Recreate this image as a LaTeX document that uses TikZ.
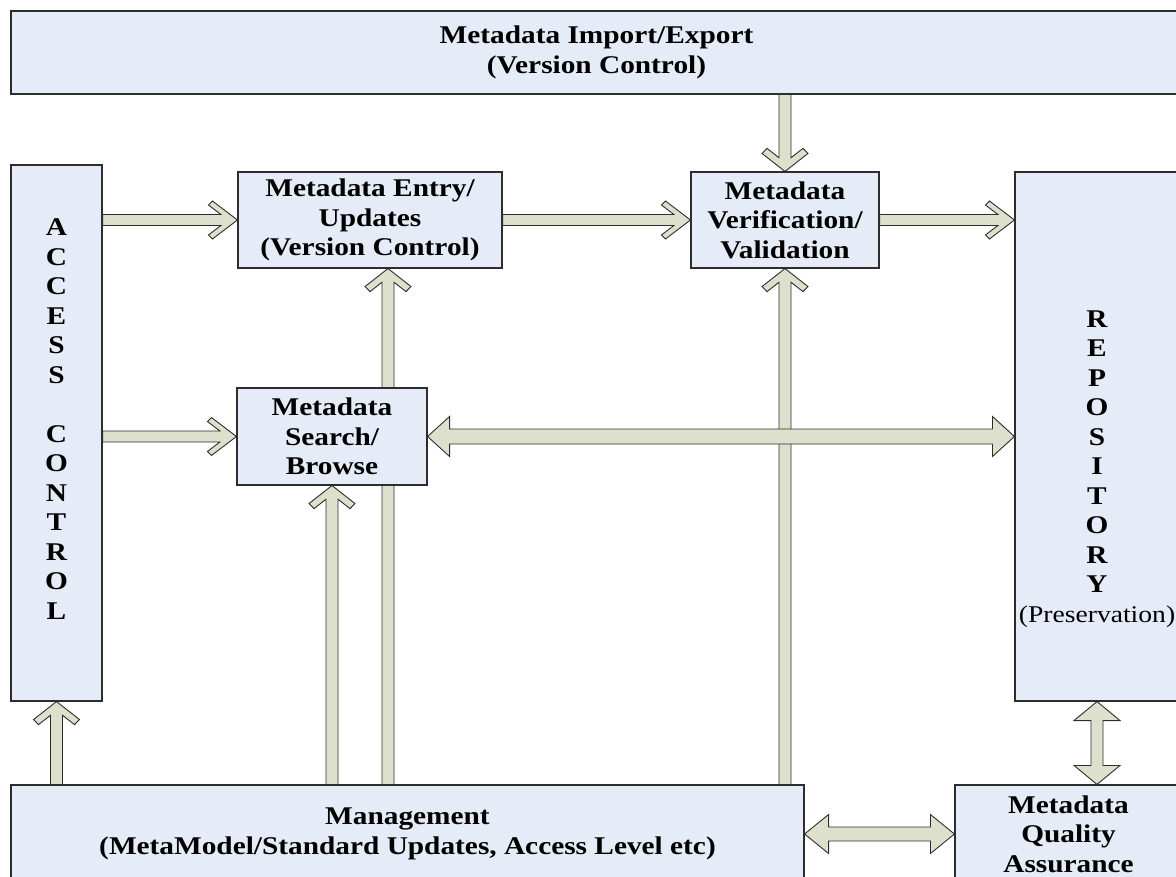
\documentclass[tikz,border=0pt]{standalone}
\usepackage{fontspec}
\setmainfont{Liberation Serif}[FakeStretch=1.15]
\usetikzlibrary{decorations.markings,backgrounds}

\definecolor{boxfill}{RGB}{230,236,247}
\definecolor{arrfill}{RGB}{221,224,204}
\definecolor{edgecol}{RGB}{45,45,45}

\tikzset{
  box/.style={draw=edgecol, line width=1.1pt, fill=boxfill, inner sep=0pt,
              align=center, font=\fontsize{25.5}{29.5}\selectfont\bfseries},
  vlabel/.style={align=center, inner sep=0pt, font=\fontsize{25.5}{29.5}\selectfont\bfseries},
  body/.style={draw=edgecol, fill=arrfill, line width=0.9pt, line join=miter},
  % open chevron head: head length, half width, cap offset, notch depth, shaft half width
  chevron/.style n args={5}{decorate, decoration={markings, mark=at position 0 with {%
      \pgfmathsetmacro\arrlen{\pgfdecoratedpathlength}%
      \pgfmathsetmacro\xs{\arrlen-#4-#1*#5/#2}%
      \pgfmathsetmacro\xe{\arrlen-#4-#1+#1*#3/#2}%
      \pgfmathsetmacro\xh{\arrlen-#1}%
      \pgfmathsetmacro\ye{#2-#3}%
      \path[body] (0,#5) -- (\xs,#5) -- (\xe,\ye) -- (\xh,#2) -- (\arrlen,0)
        -- (\xh,-#2) -- (\xe,-\ye) -- (\xs,-#5) -- (0,-#5) -- cycle;}}},
  % block arrow with a triangle head at both ends: head length, half width, shaft half width
  twoway/.style n args={3}{decorate, decoration={markings, mark=at position 0 with {%
      \pgfmathsetmacro\arrlen{\pgfdecoratedpathlength}%
      \pgfmathsetmacro\xh{\arrlen-#1}%
      \path[body] (0,0) -- (#1,#2) -- (#1,#3) -- (\xh,#3) -- (\xh,#2) -- (\arrlen,0)
        -- (\xh,-#2) -- (\xh,-#3) -- (#1,-#3) -- (#1,-#2) -- cycle;}}},
  hchev/.style={chevron={25}{19}{4}{9.3}{5.5}},
  vchev/.style={chevron={18}{23}{5}{9}{6}},
}

\begin{document}
\begin{tikzpicture}[x=1pt,y=-1pt]
\useasboundingbox (0,0) rectangle (1176,877);
\clip (0,0) rectangle (1176,877);

% boxes
\node[box, minimum width=1171pt, minimum height=83pt] (imp) at (596.5,52.5)
  {Metadata Import/Export\\(Version Control)};
\node[box, minimum width=91pt, minimum height=536pt] (acc) at (56.5,433) {};
\node[box, minimum width=264pt, minimum height=96pt] (ent) at (370,220)
  {Metadata Entry/\\Updates\\(Version Control)};
\node[box, minimum width=188pt, minimum height=96pt] (ver) at (785,220)
  {Metadata\\Verification/\\Validation};
\node[box, minimum width=190pt, minimum height=97pt] (sea) at (332,436.5)
  {Metadata\\Search/\\Browse};
\node[box, minimum width=164pt, minimum height=529pt] (rep) at (1097,436.5) {};
\node[box, minimum width=793pt, minimum height=98pt] (mgm) at (407.5,834)
  {Management\\(MetaModel/Standard Updates, Access Level etc)};
\node[box, minimum width=227pt, minimum height=98pt] (qa) at (1068.5,834)
  {Metadata\\Quality\\Assurance};

% vertical lettering
\node[vlabel] (acctext) at (56.5,419)
  {A\\C\\C\\E\\S\\S\\[29.5pt]C\\O\\N\\T\\R\\O\\L};
\node[vlabel] (reptext) at (1097,469)
  {R\\E\\P\\O\\S\\I\\T\\O\\R\\Y\\{\fontsize{24}{29.5}\selectfont\mdseries(Preservation)}};

% connectors, kept under the boxes
\begin{scope}[on background layer]
  \path[hchev] (acc.east |- ent.west) -- (ent.west);
  \path[hchev] (acc.east |- sea.west) -- (sea.west);
  \path[hchev] (ent.east) -- (ver.west);
  \path[hchev] (ver.east) -- (ver.east -| rep.west);
  \path[vchev] (imp.south -| ver.north) -- (ver.north);
  \path[vchev] (mgm.north -| ver.south) -- (ver.south);
  \path[vchev] ([xshift=18pt]ent.south |- mgm.north) -- ([xshift=18pt]ent.south);
  \path[vchev] (mgm.north -| sea.south) -- (sea.south);
  \path[vchev] (mgm.north -| acc.south) -- (acc.south);
  \path[twoway={22}{20}{7.5}] (sea.east) -- (sea.east -| rep.west);
  \path[twoway={24}{19.5}{7}] (mgm.east) -- (mgm.east -| qa.west);
  \path[twoway={19}{23}{6}] (rep.south) -- (rep.south |- qa.north);
\end{scope}
\end{tikzpicture}
\end{document}
